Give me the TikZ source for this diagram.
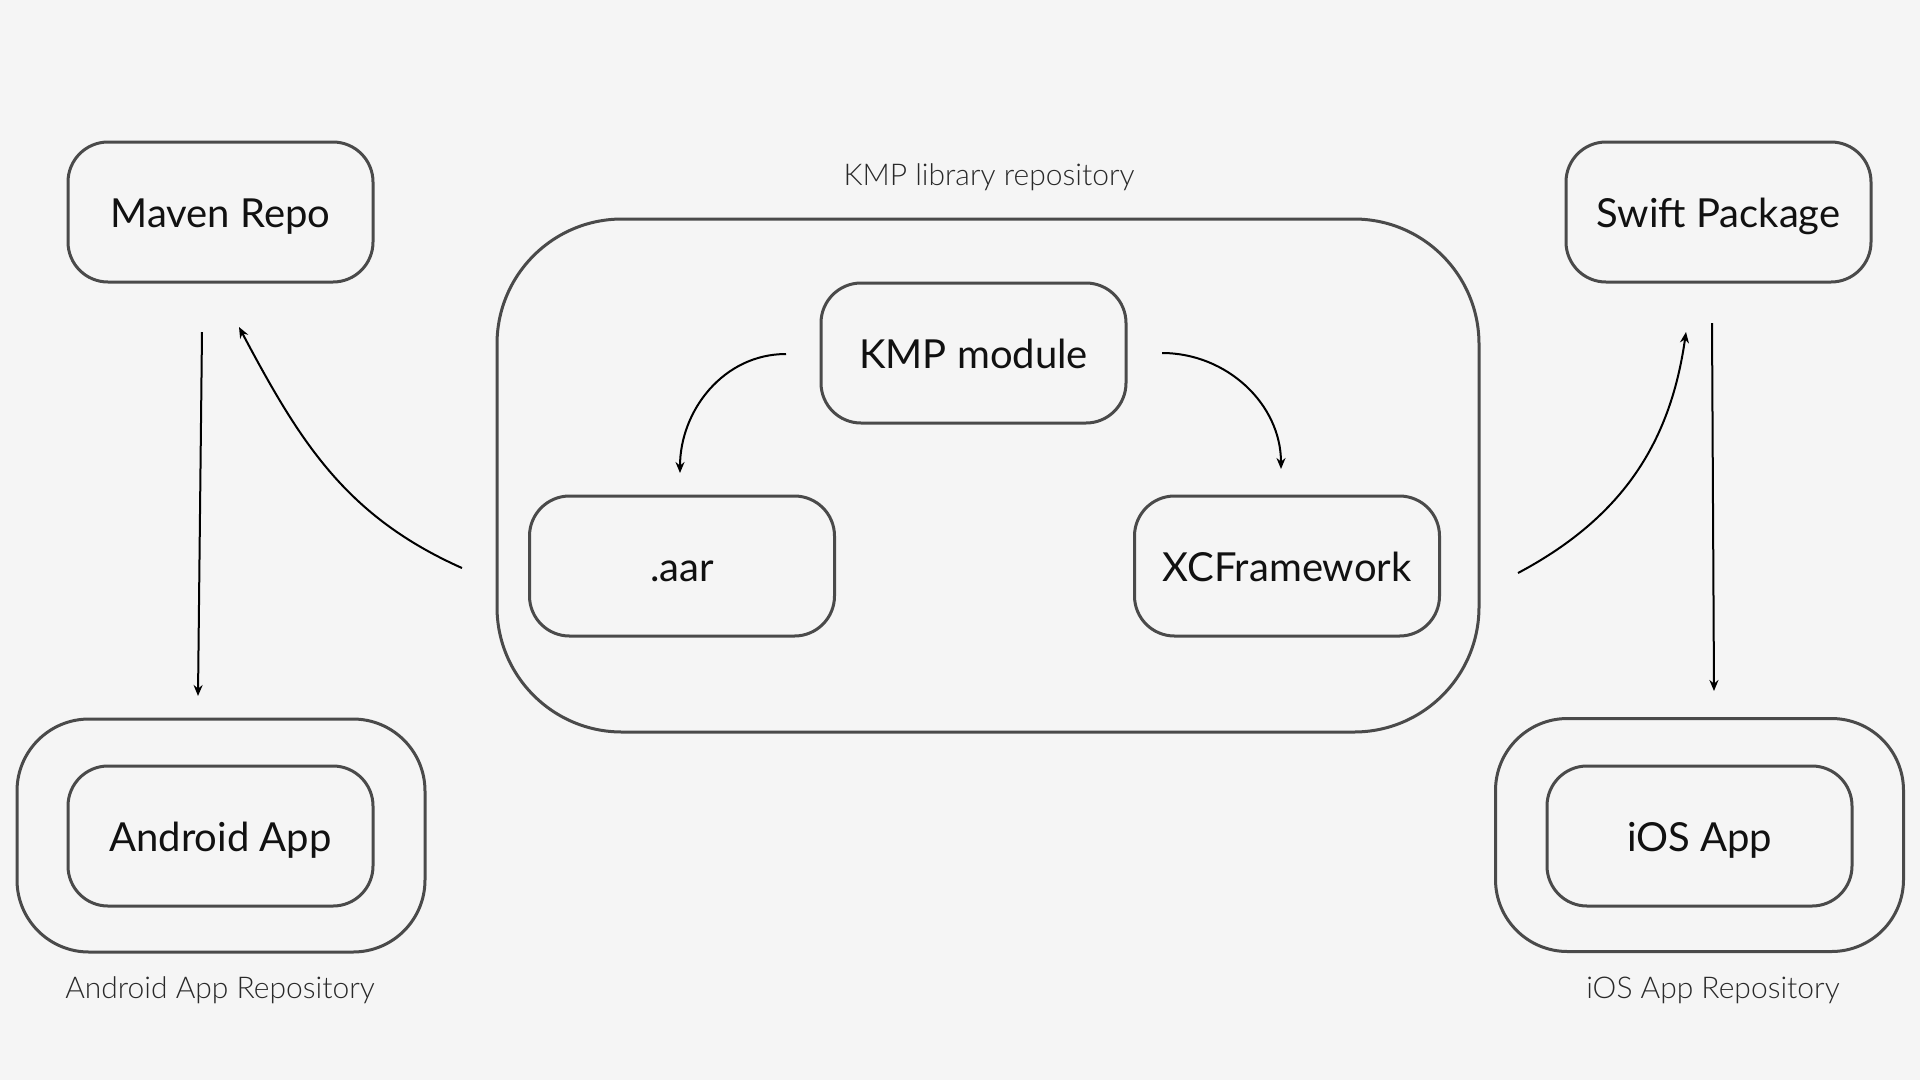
\documentclass[tikz,border=0pt]{standalone}
\usepackage{fontspec}
\setmainfont{Lato}
\newfontfamily\lightfont{Lato Light}
\usetikzlibrary{arrows.meta}
\definecolor{bg}{HTML}{F5F5F5}
\definecolor{edge}{HTML}{4A4A4A}
\definecolor{ink}{HTML}{111111}
\tikzset{
  box/.style={draw=edge, line width=3pt, rounded corners=40pt, minimum width=305pt, minimum height=140pt, inner sep=0pt, text=ink, font=\fontsize{40}{48}\selectfont, text height=31pt, text depth=0pt},
  outerbox/.style={draw=edge, line width=3pt, rounded corners=72pt, minimum width=408pt, minimum height=233pt, inner sep=0pt},
  bigbox/.style={draw=edge, line width=3pt, rounded corners=125pt, minimum width=982pt, minimum height=513pt, inner sep=0pt},
  caption/.style={text=ink!90, font=\lightfont\fontsize{30}{36}\selectfont, inner sep=0pt, text height=21.5pt, text depth=0pt},
  conn/.style={draw=black, line width=2pt, -{Stealth[length=11pt,width=9pt]}}
}
\begin{document}
\begin{tikzpicture}[x=1pt,y=-1pt]
\fill[bg] (0,0) rectangle (1920,1080);
\useasboundingbox (0,0) rectangle (1920,1080);

% containers
\node[outerbox] (aout) at (221,835.5) {};
\node[outerbox] (iout) at (1699.5,835) {};
\node[bigbox] (kmp) at (988,475.5) {};

% boxes
\node[box] (maven) at (220.5,212) {Maven Repo};
\node[box] (android) at (220.5,836) {Android App};
\node[box] (module) at (973.5,353) {KMP module};
\node[box] (aar) at (682,566) {.aar};
\node[box] (xcf) at (1287,566) {XCFramework};
\node[box] (swift) at (1718.5,212) {Swift Package};
\node[box] (ios) at (1699.5,836) {iOS App};

% captions
\node[caption] (kmplbl) at (989,175) {KMP library repository};
\node[caption] (albl) at (220,988) {Android App Repository};
\node[caption] (ilbl) at (1713,988) {iOS App Repository};

% connector end points
\coordinate (m1) at (202,332);
\coordinate (m2) at (198,696);
\coordinate (k1) at (462,568);
\coordinate (k2) at (239,327);
\coordinate (a1) at (786,354);
\coordinate (a2) at (680,473);
\coordinate (x1) at (1162,353);
\coordinate (x2) at (1281,469);
\coordinate (s1) at (1518,573);
\coordinate (s2) at (1686,332);
\coordinate (i1) at (1712,323);
\coordinate (i2) at (1714,691);

\draw[conn] (m1) -- (m2);
\draw[conn] (k1) to[out=156,in=-62] (k2);
\draw[conn] (a1) to[out=180,in=90] (a2);
\draw[conn] (x1) to[out=0,in=90] (x2);
\draw[conn] (s1) to[out=28,in=-98] (s2);
\draw[conn] (i1) -- (i2);
\end{tikzpicture}
\end{document}
